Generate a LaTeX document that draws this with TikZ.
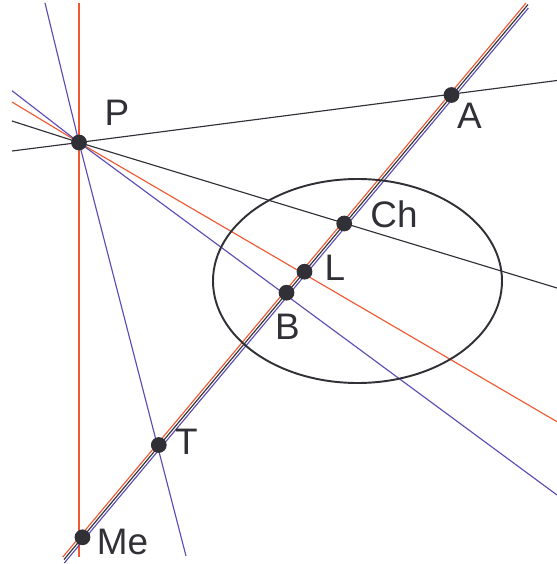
\documentclass[tikz,border=0pt]{standalone}
\usepackage{fontspec}
\setmainfont{Liberation Sans}
\definecolor{ink}{RGB}{48,48,54}
\definecolor{lineRed}{RGB}{240,88,50}
\definecolor{lineBlue}{RGB}{92,76,180}
\begin{document}
\begin{tikzpicture}[x=0.02cm,y=-0.02cm,
  thin line/.style={line width=0.65pt},
  dot/.style={circle,fill=ink,inner sep=0pt,minimum size=0.315cm},
  lbl/.style={font=\fontsize{21}{25}\selectfont,text=ink,inner sep=0pt}]
\useasboundingbox (0,0) rectangle (557,564);
% Points
\coordinate (P) at (79,142.5);
\coordinate (A) at (451.5,95);
\coordinate (Ch) at (344.2,223.5);
\coordinate (L) at (304.5,271.7);
\coordinate (B) at (286.5,292.7);
\coordinate (T) at (158.8,445);
\coordinate (Me) at (82.5,537.3);
% Line ends
\coordinate (pa1) at (12,151);   \coordinate (pa2) at (557,80.5);
\coordinate (pc1) at (12,121);   \coordinate (pc2) at (557,288);
\coordinate (pl1) at (12,102);   \coordinate (pl2) at (557,421.7);
\coordinate (pb1) at (12,90.7);  \coordinate (pb2) at (557,495);
\coordinate (pv1) at (79,3);     \coordinate (pv2) at (79,557);
\coordinate (pt1) at (45,3);     \coordinate (pt2) at (186,556);
\coordinate (d1) at (64,559.5);  \coordinate (d2) at (528,4.5);
\coordinate (r1) at (62.8,557);  \coordinate (r2) at (526,3);
\coordinate (b1) at (64.3,563);  \coordinate (b2) at (528.4,8);
% Lines through P
\draw[thin line,ink] (pa1) -- (P) -- (pa2);
\draw[thin line,ink] (pc1) -- (P) -- (pc2);
\draw[thin line,lineRed] (pl1) -- (P) -- (pl2);
\draw[thin line,lineBlue] (pb1) -- (P) -- (pb2);
\draw[thin line,lineRed,line width=0.8pt] (pv1) -- (P) -- (pv2);
\draw[thin line,lineBlue] (pt1) -- (P) -- (pt2);
% Triple diagonal
\draw[thin line,lineRed] (r1) -- (r2);
\draw[thin line,ink] (d1) -- (d2);
\draw[thin line,lineBlue] (b1) -- (b2);
% Ellipse
\draw[ink,line width=1.1pt] (357.5,281) ellipse [x radius=144.5, y radius=102];
% Dots and labels
\foreach \p/\lx/\ly in {P/117/113,A/469.5/116,Ch/394/214.5,L/335/267.5,B/287.5/327,T/186.5/441.5,Me/122.5/541.5} {
  \node[dot] (\p dot) at (\p) {};
  \node[lbl] (\p lbl) at (\lx,\ly) {\p};
}
\end{tikzpicture}
\end{document}
